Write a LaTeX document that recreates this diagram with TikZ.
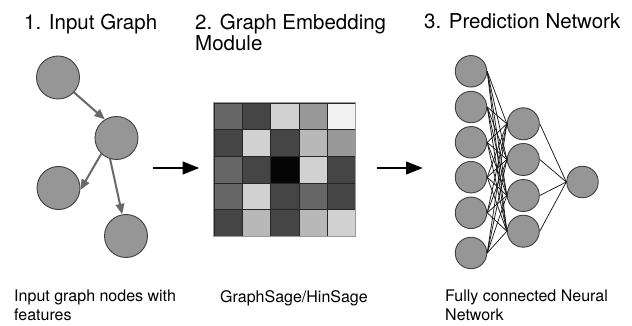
\documentclass[tikz,border=0pt]{standalone}
\usepackage{fontspec}
\setmainfont{TeX Gyre Heros}
\usetikzlibrary{arrows.meta,positioning}
\definecolor{nodeG}{RGB}{150,150,150}
\definecolor{rimG}{RGB}{64,64,64}
\definecolor{edgeG}{RGB}{105,105,105}

\begin{document}
\begin{tikzpicture}[x=1pt,y=-1pt]
  \tikzset{
    gn/.style={circle,draw=rimG,line width=0.9pt,fill=nodeG,minimum size=#1,inner sep=0pt},
    gn/.default=43pt,
    ttl/.style={anchor=north west,inner sep=0pt,font=\fontsize{20.5}{21}\selectfont,align=left},
    lbl/.style={anchor=north west,inner sep=0pt,font=\fontsize{16}{18.5}\selectfont,align=left},
    ge/.style={-{Triangle[length=10.5pt,width=8.5pt]},line width=2pt,edgeG},
    big/.style={-{Triangle[length=17pt,width=12.5pt]},line width=2.7pt,black},
    nn/.style={line width=0.75pt,black!90}
  }
  \fill[white] (0,0) rectangle (632,326);
  \useasboundingbox (0,0) rectangle (632,326);

  \node[ttl] (t1) at (24,13.5) {1. Input Graph};
  \node[ttl] (t2) at (195,13.5) {2. Graph Embedding\\Module};
  \node[ttl] (t3) at (424,13.5) {3. Prediction Network};

  \node[gn] (A) at (58,77.5) {};
  \node[gn] (B) at (116.5,138) {};
  \node[gn] (C) at (58.5,188) {};
  \node[gn] (D) at (126,236) {};
  \draw[ge] (A.-43) -- (B.122);
  \draw[ge] (B.226) -- (C.-5);
  \draw[ge] (B.253) -- (D.100);

  \node[minimum width=141.5pt,minimum height=133.5pt,inner sep=0pt] (emb) at (284.75,169.75) {};
  \foreach \vals [count=\r from 0] in {{60,73,18,40,5},{73,18,73,28,40},{60,73,98,18,73},{60,18,73,60,73},{73,28,73,28,18}}
    \foreach \g [count=\c from 0] in \vals
      \filldraw[fill=black!\g,draw=black!85,line width=0.8pt] (214+\c*28.3,103+\r*26.7) rectangle ++(28.3,26.7);
  \draw[black!40,line width=1.2pt] (emb.north west) rectangle (emb.south east);

  \coordinate (p1) at (153,168);
  \coordinate (q1) at (199.5,168);
  \coordinate (p2) at (377,168);
  \coordinate (q2) at (423,168);
  \draw[big] (p1) -- (q1);
  \draw[big] (p2) -- (q2);

  \foreach \y [count=\k] in {71.3,107,142.3,177.2,212.8,253}
    \node[gn=31.5pt] (i\k) at (471,\y) {};
  \foreach \y [count=\k] in {123.8,159.5,195.5,231.2}
    \node[gn=32pt] (h\k) at (523.3,\y) {};
  \node[gn=31.5pt] (o) at (582.5,182) {};
  \foreach \a in {1,...,6}
    \foreach \b in {1,...,4}
      \draw[nn] (i\a.east) -- (h\b.west);
  \foreach \b in {1,...,4}
    \draw[nn] (h\b.east) -- (o.west);

  \node[lbl] (c1) at (14,290) {Input graph nodes with\\features};
  \node[lbl] (c2) at (220,290) {GraphSage/HinSage};
  \node[lbl] (c3) at (445,290) {Fully connected Neural\\Network};
\end{tikzpicture}
\end{document}
